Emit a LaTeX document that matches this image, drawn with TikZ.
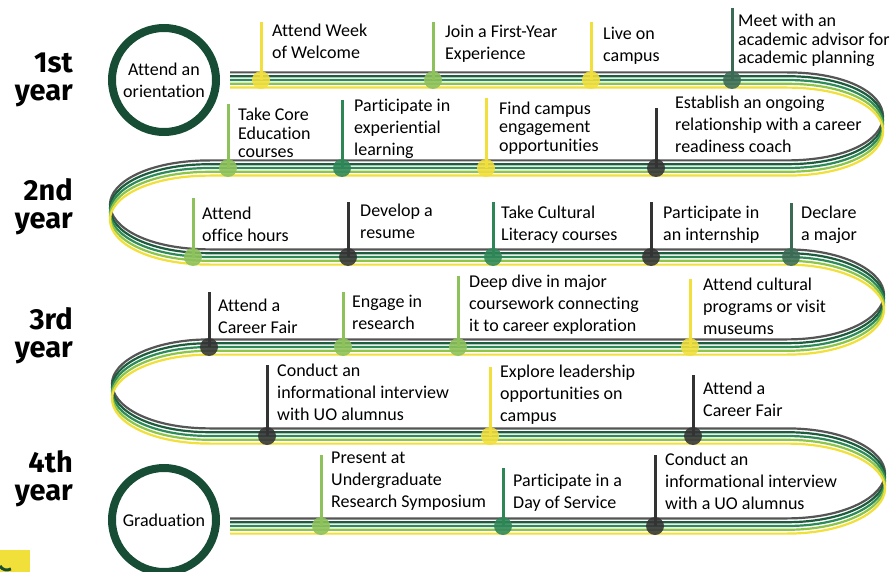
\documentclass[tikz,border=0pt]{standalone}
\usepackage{fontspec}
\setmainfont{Carlito}[Ligatures=NoCommon]
\newfontfamily\yearfont{Fira Sans}
\definecolor{rgray}{HTML}{555555}
\definecolor{rdg}{HTML}{1D5C3D}
\definecolor{rmg}{HTML}{2E8A57}
\definecolor{rlg}{HTML}{8DC449}
\definecolor{ryel}{HTML}{F2E03A}
\definecolor{cgreen}{HTML}{174D35}
\definecolor{dyel}{HTML}{F2DF3C}
\definecolor{dlg}{HTML}{8DC15A}
\definecolor{dmg}{HTML}{2E8657}
\definecolor{ddg}{HTML}{3B6B55}
\definecolor{dgray}{HTML}{333333}
\newcommand\mstone[9]{%
  \coordinate (#1t) at (#2,#4);
  \coordinate (#1c) at (#2,#3);
  \draw[stem,#5] (#1t) -- (#1c);
  \node[dot,fill=#5] (#1d) at (#1c) {};
  \node[#8] (#1) at (#6,#7) {#9};}
\begin{document}
\begin{tikzpicture}[x=1pt,y=-1pt,
  stripe/.style={line width=2.2pt},
  stem/.style={line width=3pt},
  dot/.style={circle,draw=none,minimum size=18pt,inner sep=0pt,fill opacity=0.88},
  lbl/.style={anchor=west,inner sep=0pt,align=left,font=\fontsize{18}{22}\selectfont},
  lbltight/.style={anchor=west,inner sep=0pt,align=left,font=\fontsize{18}{18.5}\selectfont},
  yearlbl/.style={anchor=east,inner sep=0pt,align=right,font=\yearfont\bfseries\fontsize{29}{28}\selectfont},
  bigcirc/.style={circle,draw=cgreen,line width=8pt,minimum size=104pt,inner sep=0pt,align=center,font=\fontsize{18}{22}\selectfont}]
\useasboundingbox (0,0) rectangle (896,572);
\fill[white] (0,0) rectangle (896,572);

% cut-off fragments at top
\fill[black] (490,0) arc[start angle=180,end angle=360,x radius=9,y radius=3] -- cycle;
\fill[black] (612,0) arc[start angle=180,end angle=360,x radius=9,y radius=3] -- cycle;
\fill[black] (719,0) arc[start angle=180,end angle=360,x radius=9,y radius=3] -- cycle;

% road
\foreach \d/\c in {-7.6/rgray,-3.8/rdg,0/rmg,3.8/rlg,7.6/ryel}{
  \draw[stripe,\c,shift={(0,\d)}] (230,80) -- (787,80)
    .. controls (845,80) and (883,100) .. (883,124)
    .. controls (883,148) and (845,168) .. (787,168) -- (210,168)
    .. controls (148,168) and (110,190) .. (110,212)
    .. controls (110,235) and (148,257) .. (210,257) -- (787,257)
    .. controls (845,257) and (884,280) .. (884,302)
    .. controls (884,325) and (845,347) .. (787,347) -- (210,347)
    .. controls (150,347) and (112,370) .. (112,391)
    .. controls (112,414) and (150,436) .. (210,436) -- (787,436)
    .. controls (845,436) and (885,458) .. (885,481)
    .. controls (885,504) and (845,526) .. (787,526) -- (230,526);
}

% year labels
\node[yearlbl] (y1) at (73,80) {1st\\year};
\node[yearlbl] (y2) at (73,207) {2nd\\year};
\node[yearlbl] (y3) at (73,336) {3rd\\year};
\node[yearlbl] (y4) at (73,479) {4th\\year};

% circles
\node[bigcirc] (orient) at (164,80) {Attend an\\orientation};
\node[bigcirc] (grad) at (164,520) {Graduation};

% row 1
\mstone{m1}{261}{80}{22}{dyel}{272}{41}{lbl}{Attend Week\\of Welcome}
\mstone{m2}{433}{80}{22}{dlg}{445}{43.5}{lbl}{Join a First-Year\\Experience}
\mstone{m3}{591}{80}{22}{dyel}{603}{46}{lbl}{Live on\\campus}
\mstone{m4}{732}{80}{8}{ddg}{738}{40.5}{lbltight}{Meet with an\\academic advisor for\\academic planning}
% row 2
\mstone{m5}{228}{168}{104}{dlg}{238}{133}{lbltight}{Take Core\\Education\\courses}
\mstone{m6}{342}{168}{100}{dmg}{354}{129}{lbl}{Participate in\\experiential\\learning}
\mstone{m7}{486}{168}{98}{dyel}{499}{128}{lbltight}{Find campus\\engagement\\opportunities}
\mstone{m8}{656}{168}{108}{dgray}{675}{124.5}{lbl}{Establish an ongoing\\relationship with a career\\readiness coach}
% row 3
\mstone{m9}{193}{257}{198}{dlg}{202}{224}{lbl}{Attend\\office hours}
\mstone{m10}{348}{257}{202}{dgray}{360}{221.5}{lbl}{Develop a\\resume}
\mstone{m11}{493}{257}{202}{dmg}{501}{224.5}{lbl}{Take Cultural\\Literacy courses}
\mstone{m12}{651}{257}{202}{dgray}{663}{224.5}{lbl}{Participate in\\an internship}
\mstone{m13}{791}{257}{203}{ddg}{801}{224.5}{lbl}{Declare\\a major}
% row 4
\mstone{m14}{209}{347}{292}{dgray}{218}{316}{lbl}{Attend a\\Career Fair}
\mstone{m15}{343}{347}{292}{dlg}{352}{312}{lbl}{Engage in\\research}
\mstone{m16}{458}{347}{276}{dlg}{469}{305}{lbl}{Deep dive in major\\coursework connecting\\it to career exploration}
\mstone{m17}{690}{347}{279}{dyel}{703}{306.5}{lbl}{Attend cultural\\programs or visit\\museums}
% row 5
\mstone{m18}{267}{436}{365}{dgray}{277}{392.5}{lbl}{Conduct an\\informational interview\\with UO alumnus}
\mstone{m19}{490}{436}{367}{dyel}{500}{394.5}{lbl}{Explore leadership\\opportunities on\\campus}
\mstone{m20}{693}{436}{375}{dgray}{703}{399}{lbl}{Attend a\\Career Fair}
% row 6
\mstone{m21}{321}{526}{455}{dlg}{331}{481.5}{lbl}{Present at\\Undergraduate\\Research Symposium}
\mstone{m22}{503}{526}{468}{dmg}{513}{492.5}{lbl}{Participate in a\\Day of Service}
\mstone{m23}{655}{526}{455}{dgray}{665}{481.5}{lbl}{Conduct an\\informational interview\\with a UO alumnus}

% logo fragment bottom left
\fill[ryel] (0,550) rectangle (30,572);
\draw[cgreen,line width=3pt] (0,566) arc[start angle=150,end angle=60,radius=8];
\end{tikzpicture}
\end{document}
